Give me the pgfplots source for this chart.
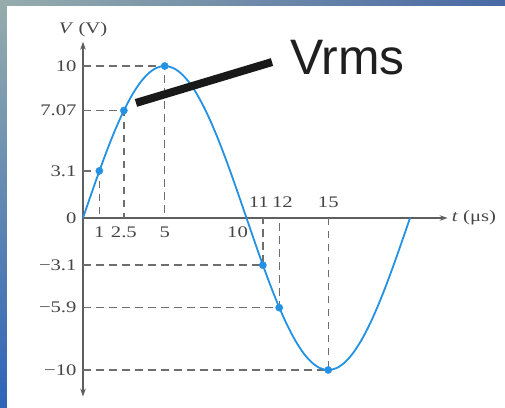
\documentclass[border=0pt]{standalone}
\usepackage{fontspec}
\usepackage{pgfplots}
\pgfplotsset{compat=1.18}
\usetikzlibrary{arrows.meta}
\newfontfamily\chartfont[FakeStretch=1.28]{Liberation Serif}
\newfontfamily\vfont{Liberation Sans}
\definecolor{curveblue}{RGB}{35,145,228}
\definecolor{dashgray}{RGB}{110,110,110}
\definecolor{txtgray}{RGB}{70,70,70}
\definecolor{axgray}{RGB}{95,95,95}
\definecolor{bgtop}{RGB}{150,172,172}
\definecolor{bgblue}{RGB}{45,100,185}
\definecolor{bgright}{RGB}{72,105,165}
\begin{document}
\begin{tikzpicture}
% slide background
\fill[white] (-83bp,-190bp) rectangle (422bp,218bp);
\shade[top color=bgtop, bottom color=bgblue] (-83bp,-190bp) rectangle (-76bp,218bp);
\shade[left color=bgtop, right color=bgright] (-83bp,212bp) rectangle (422bp,218bp);
\begin{axis}[
  at={(0,0)}, anchor=origin,
  scale only axis,
  x=16.35bp, y=15.2bp,
  xmin=0, xmax=22.3, ymin=-11.75, ymax=11.6,
  axis lines=middle,
  clip=false,
  hide obscured x ticks=false,
  hide obscured y ticks=false,
  x axis line style={draw=axgray, line width=1.3bp, -{Stealth[length=8bp,width=5.5bp]}},
  y axis line style={draw=axgray, line width=1.3bp, {Stealth[length=8bp,width=5.5bp]}-{Stealth[length=8bp,width=5.5bp]}},
  tick label style={font=\chartfont\fontsize{16.2}{17}\selectfont, text=txtgray},
  ytick={-10,-5.9,-3.1,0,3.1,7.07,10},
  yticklabels={−10,−5.9,−3.1,0,3.1,7.07,10},
  ytick style={draw=axgray, line width=1.2bp, xshift=3bp},
  major tick length=6bp,
  xtick={1,2.5,5,9.45},
  xticklabels={1,2.5,5,10},
  xtick style={draw=none},
  xticklabel style={yshift=-2.5bp},
  extra x ticks={10.75,12.2,15},
  extra x tick labels={11,12,15},
  extra x tick style={xticklabel style={anchor=south, yshift=12.5bp}},
  xlabel={\textit{t} (μs)},
  ylabel={\textit{V} (V)},
  every axis x label/.style={at={(axis cs:22.55,0)}, anchor=west, font=\chartfont\fontsize{16.2}{17}\selectfont, text=txtgray, inner sep=0pt},
  every axis y label/.style={at={(axis cs:0,12.4)}, anchor=center, font=\chartfont\fontsize{16.2}{17}\selectfont, text=txtgray, inner sep=0pt},
]
% guide lines
\addplot[dashgray, line width=1.4bp, dash pattern=on 7.5bp off 5.5bp] coordinates {(0,10) (5,10) (5,0)};
\addplot[dashgray, line width=1.4bp, dash pattern=on 7.5bp off 5.5bp] coordinates {(0,7.07) (2.5,7.07) (2.5,0)};
\addplot[dashgray, line width=1.4bp, dash pattern=on 7.5bp off 5.5bp] coordinates {(0,3.1) (1,3.1) (1,0)};
\addplot[dashgray, line width=1.4bp, dash pattern=on 7.5bp off 5.5bp] coordinates {(0,-3.1) (11,-3.1) (11,0)};
\addplot[dashgray, line width=1.4bp, dash pattern=on 7.5bp off 5.5bp] coordinates {(0,-5.9) (12,-5.9) (12,0)};
\addplot[dashgray, line width=1.4bp, dash pattern=on 7.5bp off 5.5bp] coordinates {(0,-10) (15,-10) (15,0)};
% waveform
\addplot[curveblue, line width=1.8bp, smooth, no marks] coordinates {
(0,0) (0.5,1.564) (1,3.090) (1.5,4.540) (2,5.878) (2.5,7.071) (3,8.090) (3.5,8.910) (4,9.511) (4.5,9.877) (5,10)
(5.5,9.877) (6,9.511) (6.5,8.910) (7,8.090) (7.5,7.071) (8,5.878) (8.5,4.540) (9,3.090) (9.5,1.564) (10,0)
(10.5,-1.564) (11,-3.090) (11.5,-4.540) (12,-5.878) (12.5,-7.071) (13,-8.090) (13.5,-8.910) (14,-9.511) (14.5,-9.877) (15,-10)
(15.5,-9.877) (16,-9.511) (16.5,-8.910) (17,-8.090) (17.5,-7.071) (18,-5.878) (18.5,-4.540) (19,-3.090) (19.5,-1.564) (20,0)
};
% marked points
\addplot[only marks, mark=*, mark size=3.6bp, curveblue] coordinates {(1,3.1) (2.5,7.07) (5,10) (11,-3.1) (12,-5.9) (15,-10)};
% Vrms pointer
\addplot[black!90, line width=8bp, line cap=butt, no marks] coordinates {(3.24,7.57) (11.56,10.26)};
\node[anchor=base west, inner sep=0pt, font=\vfont\fontsize{50}{50}\selectfont, text=black!88] at (axis cs:12.66,9.41) {Vrms};
\end{axis}
\pgfresetboundingbox
\path[use as bounding box] (-83bp,-190bp) rectangle (422bp,218bp);
\end{tikzpicture}
\end{document}
